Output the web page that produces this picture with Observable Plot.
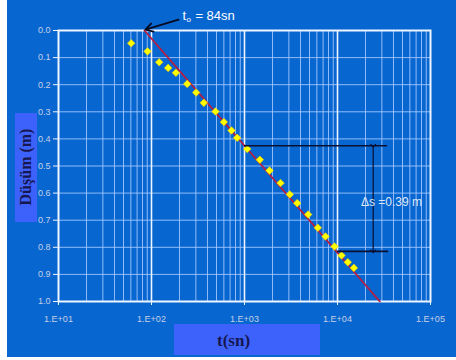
<!DOCTYPE html>
<html>
<head>
<meta charset="utf-8">
<script src="https://cdn.jsdelivr.net/npm/d3@7"></script>
<script src="https://cdn.jsdelivr.net/npm/@observablehq/plot@0.6"></script>
<style>
  html, body { margin: 0; padding: 0; background: #ffffff; }
  #wrap { position: absolute; left: 7px; top: 0; width: 449px; height: 357px; background: #0866d0; overflow: hidden; }
  #wrap svg { position: absolute; left: 0; top: 0; }
  .lab { position: absolute; background: #3d62fb; color: #161650; font-family: "Liberation Serif", "DejaVu Serif", serif; font-weight: bold; }
  #xlab { left: 167px; top: 324px; width: 146px; height: 31px; font-size: 17px; line-height: 31px; padding-left: 0; }
  #xlab span { position: absolute; left: 43px; top: 1px; }
  #ylab { left: 8px; top: 113px; width: 22px; height: 109px; }
  #ylab span { position: absolute; left: 11px; top: 54px; transform: translate(-50%, -50%) rotate(-90deg); white-space: nowrap; font-size: 16px; }
</style>
</head>
<body>
<div id="wrap">
  <div id="ylab" class="lab"><span>Düşüm (m)</span></div>
  <div id="xlab" class="lab"><span>t(sn)</span></div>
</div>
<script>
// Measured drawdown data (time in seconds, drawdown in m)
const timeSn = [60.5, 90.6, 121, 151, 183, 242, 302, 365, 488, 600, 725, 834, 1069, 1462, 1858, 2440, 3070, 3690, 4840, 6140, 7430, 9290, 11040, 12900, 15000];
const dususM = [0.047, 0.077, 0.117, 0.138, 0.156, 0.197, 0.229, 0.267, 0.299, 0.338, 0.369, 0.396, 0.437, 0.477, 0.517, 0.563, 0.605, 0.637, 0.679, 0.728, 0.760, 0.797, 0.830, 0.855, 0.876];

// Fitted straight line (Cooper-Jacob)
const fitT = [84, 28500];
const fitS = [0.0, 1.0];

// Axis ticks and labels
const xTicks = [10, 100, 1000, 10000, 100000];
const xTickLabels = ["1.E+01", "1.E+02", "1.E+03", "1.E+04", "1.E+05"];
const yTicks = [0, 0.1, 0.2, 0.3, 0.4, 0.5, 0.6, 0.7, 0.8, 0.9, 1.0];
const yTickLabels = ["0.0", "0.1", "0.2", "0.3", "0.4", "0.5", "0.6", "0.7", "0.8", "0.9", "1.0"];

// Annotation values
const deltaUpperS = 0.425, deltaUpperT = [1000, 34500];
const deltaLowerS = 0.815, deltaLowerT = [10000, 35500];
const deltaArrowT = 24200;
const deltaText = "Δs =0.39 m";
const deltaTextPos = [38000, 0.635];
const t0Label = { t: 215, s: -0.055 };
const t0Arrow = [195, -0.04, 86, -0.003];

const points = timeSn.map((t, i) => ({ t, s: dususM[i] }));
const fitLine = fitT.map((t, i) => ({ t, s: fitS[i] }));

const minor = [];
for (let e = 1; e < 5; e++) for (let k = 2; k <= 9; k++) minor.push(k * Math.pow(10, e));
const hGrid = yTicks.slice(1, -1);

const chart = Plot.plot({
  width: 449,
  height: 357,
  marginLeft: 51,
  marginRight: 26,
  marginTop: 30,
  marginBottom: 56,
  style: { background: "transparent", fontFamily: "Liberation Sans Narrow, Liberation Sans, Arial, sans-serif", overflow: "visible" },
  x: { type: "log", domain: [10, 100000], axis: null, label: null },
  y: { domain: [0, 1], reverse: true, axis: null, label: null },
  marks: [
    Plot.ruleY(hGrid, { stroke: "#a9cbff", strokeWidth: 1, strokeOpacity: 0.85 }),
    Plot.ruleX(minor, { stroke: "#a9cbff", strokeWidth: 1, strokeOpacity: 0.85 }),
    Plot.ruleX(xTicks.slice(1, -1), { stroke: "#eef5ff", strokeWidth: 1.6 }),
    Plot.frame({ stroke: "#eef5ff", strokeWidth: 2 }),
    Plot.axisY(yTicks, { anchor: "left", label: null, tickSize: 5, tickPadding: 3, stroke: "#eef5ff", fill: "#c6d0e6", fontSize: 9, tickFormat: d => yTickLabels[yTicks.indexOf(d)] }),
    Plot.axisX(xTicks, { anchor: "bottom", label: null, tickSize: 4, tickPadding: 10, stroke: "#eef5ff", fill: "#c6d0e6", fontSize: 9, tickFormat: d => xTickLabels[xTicks.indexOf(d)] }),
    Plot.line(fitLine, { x: "t", y: "s", stroke: "#b81c40", strokeWidth: 1.8 }),
    Plot.dot(points, { x: "t", y: "s", symbol: "diamond2", r: 3.4, fill: "#ffff00", stroke: "#f4d000", strokeWidth: 0.6 }),
    Plot.ruleY([deltaUpperS], { x1: deltaUpperT[0], x2: deltaUpperT[1], stroke: "#0a1030", strokeWidth: 1.6 }),
    Plot.ruleY([deltaLowerS], { x1: deltaLowerT[0], x2: deltaLowerT[1], stroke: "#0a1030", strokeWidth: 1.6 }),
    Plot.link([0], { x1: deltaArrowT, x2: deltaArrowT, y1: deltaUpperS, y2: deltaLowerS, stroke: "#0a1030", strokeWidth: 1.2, markerStart: "arrow", markerEnd: "arrow" }),
    Plot.text([deltaText], { x: deltaTextPos[0], y: deltaTextPos[1], text: d => d, fill: "#dfe6f5", fontSize: 12 }),
    Plot.arrow([0], { x1: t0Arrow[0], y1: t0Arrow[1], x2: t0Arrow[2], y2: t0Arrow[3], stroke: "#050a20", strokeWidth: 1.8, headLength: 7, bend: 0 }),
    Plot.text(["t"], { x: t0Label.t, y: t0Label.s, text: d => d, fill: "#ffffff", fontSize: 13, textAnchor: "start" }),
    Plot.text(["o"], { x: t0Label.t, y: t0Label.s, text: d => d, fill: "#ffffff", fontSize: 8, textAnchor: "start", dx: 4, dy: 4 }),
    Plot.text(["= 84sn"], { x: t0Label.t, y: t0Label.s, text: d => d, fill: "#ffffff", fontSize: 13, textAnchor: "start", dx: 13 })
  ]
});
document.getElementById("wrap").prepend(chart);
</script>
</body>
</html>
